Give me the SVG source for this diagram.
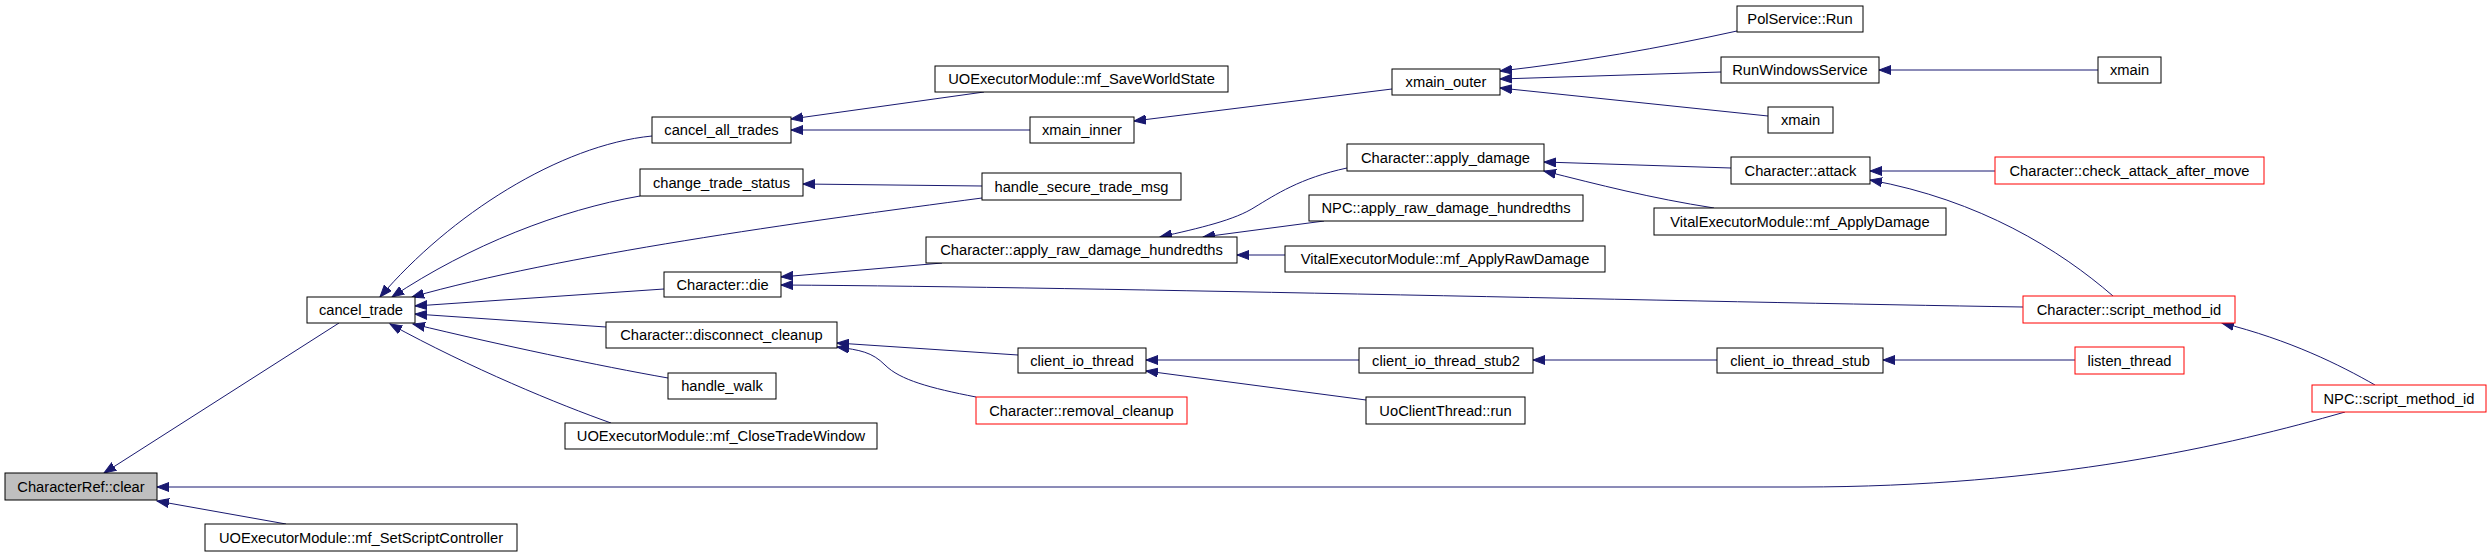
<svg xmlns="http://www.w3.org/2000/svg" width="2491" height="556" viewBox="0 0 2491 556">
<style>
.n rect{fill:#ffffff;stroke:#000000;stroke-width:1}
.n.r rect{stroke:#ff0000}
.n.g rect{fill:#bfbfbf}
.n text{font-family:"Liberation Sans",Arial,sans-serif;font-size:14.7px;fill:#000000;text-anchor:middle}
#edges path{fill:none;stroke:#191970;stroke-width:1;marker-end:url(#ah)}
</style>
<defs>
<marker id="ah" markerUnits="userSpaceOnUse" markerWidth="14" markerHeight="10" refX="12" refY="5" orient="auto">
<path d="M0,0.5 L12,5 L0,9.5 z" fill="#191970" stroke="#191970" stroke-width="1"/>
</marker>
</defs>
<rect x="0" y="0" width="2491" height="556" fill="#ffffff"/>
<g id="edges">
<path d="M339,323 L104,473"/>
<path d="M2345,412 C2230,445 2050,487 1800,487 L157,487"/>
<path d="M286,524 L157,501"/>
<path d="M652,136 C560,145 450,215 380,297"/>
<path d="M640,196 C560,210 470,245 392,297"/>
<path d="M982,186 L803,184"/>
<path d="M982,198 C800,222 560,255 412,297"/>
<path d="M664,289 L415,306"/>
<path d="M606,327 L415,314"/>
<path d="M668,378 C600,366 500,345 413,324"/>
<path d="M611,423 C560,405 470,368 390,324"/>
<path d="M984,92 L791,119"/>
<path d="M1030,130 L791,130"/>
<path d="M942,263 L781,277"/>
<path d="M2023,307 C1700,302 1100,287 781,285"/>
<path d="M1018,355 L837,343"/>
<path d="M976,397 C930,388 900,380 885,365 C872,352 860,350 837,347"/>
<path d="M1392,89 L1134,121"/>
<path d="M1347,168 C1300,178 1275,195 1255,207 C1235,220 1200,228 1160,237"/>
<path d="M1324,221 L1203,237"/>
<path d="M1285,255 L1237,255"/>
<path d="M1359,360 L1146,360"/>
<path d="M1366,400 L1146,371"/>
<path d="M1737,31 C1660,48 1580,62 1500,71"/>
<path d="M1721,72 L1500,79"/>
<path d="M1768,116 L1500,88"/>
<path d="M1731,168 L1544,162"/>
<path d="M1714,208 C1650,198 1600,185 1544,171"/>
<path d="M1717,360 L1533,360"/>
<path d="M2098,70 L1879,70"/>
<path d="M1995,171 L1870,171"/>
<path d="M2113,296 C2060,250 1980,200 1870,180"/>
<path d="M2075,360 L1883,360"/>
<path d="M2375,385 C2340,365 2290,340 2222,323"/>
</g>
<g id="n1" class="n g"><rect x="5" y="473" width="152" height="27"/><text x="81" y="492">CharacterRef::clear</text></g>
<g id="n2" class="n"><rect x="307" y="297" width="108" height="26"/><text x="361" y="315">cancel_trade</text></g>
<g id="n3" class="n"><rect x="205" y="524" width="312" height="27"/><text x="361" y="543">UOExecutorModule::mf_SetScriptController</text></g>
<g id="n4" class="n"><rect x="652" y="117" width="139" height="26"/><text x="721.5" y="135">cancel_all_trades</text></g>
<g id="n5" class="n"><rect x="640" y="169" width="163" height="27"/><text x="721.5" y="188">change_trade_status</text></g>
<g id="n6" class="n"><rect x="664" y="272" width="117" height="25"/><text x="722.5" y="290">Character::die</text></g>
<g id="n7" class="n"><rect x="606" y="322" width="231" height="26"/><text x="721.5" y="340">Character::disconnect_cleanup</text></g>
<g id="n8" class="n"><rect x="668" y="373" width="108" height="26"/><text x="722" y="391">handle_walk</text></g>
<g id="n9" class="n"><rect x="565" y="423" width="312" height="26"/><text x="721" y="441">UOExecutorModule::mf_CloseTradeWindow</text></g>
<g id="n10" class="n"><rect x="935" y="66" width="293" height="26"/><text x="1081.5" y="84">UOExecutorModule::mf_SaveWorldState</text></g>
<g id="n11" class="n"><rect x="1030" y="117" width="104" height="26"/><text x="1082" y="135">xmain_inner</text></g>
<g id="n12" class="n"><rect x="982" y="173" width="199" height="27"/><text x="1081.5" y="192">handle_secure_trade_msg</text></g>
<g id="n13" class="n"><rect x="926" y="237" width="311" height="26"/><text x="1081.5" y="255">Character::apply_raw_damage_hundredths</text></g>
<g id="n14" class="n"><rect x="1018" y="348" width="128" height="25"/><text x="1082" y="366">client_io_thread</text></g>
<g id="n15" class="n r"><rect x="976" y="397" width="211" height="27"/><text x="1081.5" y="416">Character::removal_cleanup</text></g>
<g id="n16" class="n"><rect x="1392" y="69" width="108" height="26"/><text x="1446" y="87">xmain_outer</text></g>
<g id="n17" class="n"><rect x="1347" y="144" width="197" height="27"/><text x="1445.5" y="163">Character::apply_damage</text></g>
<g id="n18" class="n"><rect x="1309" y="195" width="274" height="26"/><text x="1446" y="213">NPC::apply_raw_damage_hundredths</text></g>
<g id="n19" class="n"><rect x="1285" y="246" width="320" height="26"/><text x="1445" y="264">VitalExecutorModule::mf_ApplyRawDamage</text></g>
<g id="n20" class="n"><rect x="1359" y="348" width="174" height="25"/><text x="1446" y="366">client_io_thread_stub2</text></g>
<g id="n21" class="n"><rect x="1366" y="397" width="159" height="27"/><text x="1445.5" y="416">UoClientThread::run</text></g>
<g id="n22" class="n"><rect x="1737" y="6" width="126" height="26"/><text x="1800" y="24">PolService::Run</text></g>
<g id="n23" class="n"><rect x="1721" y="57" width="158" height="26"/><text x="1800" y="75">RunWindowsService</text></g>
<g id="n24" class="n"><rect x="1768" y="107" width="65" height="26"/><text x="1800.5" y="125">xmain</text></g>
<g id="n25" class="n"><rect x="1731" y="157" width="139" height="27"/><text x="1800.5" y="176">Character::attack</text></g>
<g id="n26" class="n"><rect x="1654" y="208" width="292" height="27"/><text x="1800" y="227">VitalExecutorModule::mf_ApplyDamage</text></g>
<g id="n27" class="n"><rect x="1717" y="348" width="166" height="25"/><text x="1800" y="366">client_io_thread_stub</text></g>
<g id="n28" class="n"><rect x="2098" y="57" width="63" height="26"/><text x="2129.5" y="75">xmain</text></g>
<g id="n29" class="n r"><rect x="1995" y="157" width="269" height="27"/><text x="2129.5" y="176">Character::check_attack_after_move</text></g>
<g id="n30" class="n r"><rect x="2023" y="296" width="212" height="27"/><text x="2129" y="315">Character::script_method_id</text></g>
<g id="n31" class="n r"><rect x="2075" y="347" width="109" height="27"/><text x="2129.5" y="366">listen_thread</text></g>
<g id="n32" class="n r"><rect x="2312" y="385" width="174" height="27"/><text x="2399" y="404">NPC::script_method_id</text></g>
</svg>
